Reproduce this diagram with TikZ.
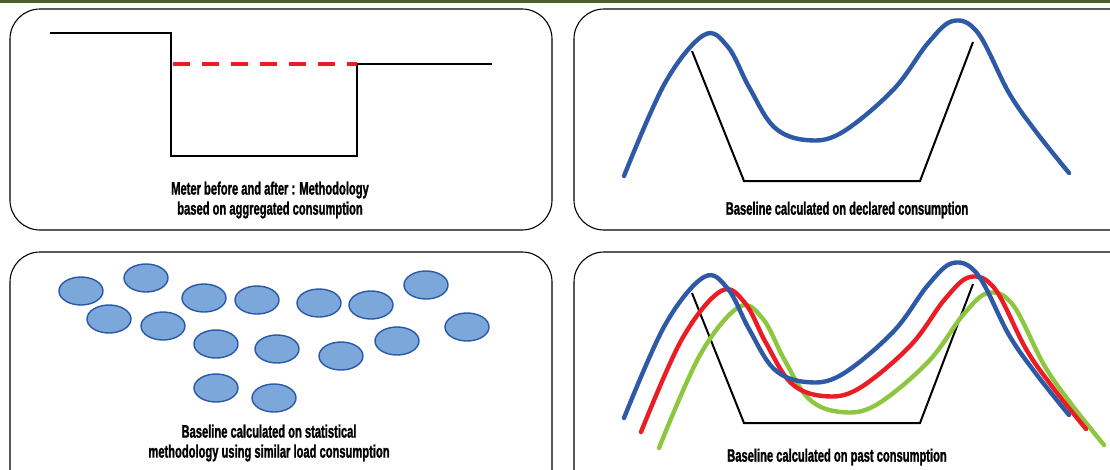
\documentclass[tikz,border=0pt]{standalone}
\usepackage{fontspec}
\newfontfamily\capfont{Liberation Sans}[FakeStretch=0.62, BoldFeatures={FakeBold=1.2}]
\definecolor{BarOlive}{HTML}{4F6128}
\definecolor{CurveBlue}{HTML}{2E59A6}
\definecolor{CurveRed}{HTML}{EC1C24}
\definecolor{CurveGreen}{HTML}{8DC63F}
\definecolor{BlobFill}{HTML}{7BA7DB}
\definecolor{BlobEdge}{HTML}{2B58A8}
\usetikzlibrary{shapes.geometric}

% load profile with two peaks (top right panel coordinates)
\newcommand{\peakpath}{plot[smooth, tension=0.6] coordinates {(624,176) (665,83) (704,35) (728,47) (749,87) (774,127) (806,140) (841,133) (893,90) (928,43) (953,21) (978,33) (1009,93) (1037,133) (1069,173)}}
\newcommand{\basepath}{(692,51) -- (744,181) -- (920,181) -- (973,42)}

\begin{document}
\begin{tikzpicture}[x=1pt, y=-1pt,
  panel/.style={draw=black, line width=1.1pt, rounded corners=30pt},
  lbl/.style={font=\capfont\bfseries\fontsize{18}{20}\selectfont, align=center, inner sep=0pt},
  prof/.style={line width=2pt, line join=miter},
  curve/.style={line width=4.4pt, line cap=round},
  blob/.style={ellipse, draw=BlobEdge, fill=BlobFill, line width=1.4pt, minimum width=44pt, minimum height=28pt, inner sep=0pt},
]
  \useasboundingbox (0,0) rectangle (1110,469);
  \clip (0,0) rectangle (1110,469);
  \fill[BarOlive] (0,0) rectangle (1110,3);

  % Panels
  \draw[panel] (10,9) rectangle (552,230);
  \draw[panel] (574,9) rectangle (1140,230);
  \draw[panel] (10,252) rectangle (552,500);
  \draw[panel] (574,252) rectangle (1140,500);

  % Meter before and after
  \draw[prof] (50,33) -- (171,33) -- (171,156) -- (357,156) -- (357,64) -- (492,64);
  \draw[CurveRed, line width=4pt, dash pattern=on 17pt off 12pt] (173,64) -- (357,64);
  \node[lbl] (capmeter) at (270,200) {Meter before and after : Methodology\\based on aggregated consumption};

  % Declared consumption
  \draw[prof] \basepath;
  \draw[curve, CurveBlue] \peakpath;
  \node[lbl] (capdecl) at (847,210) {Baseline calculated on declared consumption};

  % Statistical methodology
  \node[blob] (e1) at (81,291) {};
  \node[blob] (e2) at (146,278) {};
  \node[blob] (e3) at (204,298) {};
  \node[blob] (e4) at (257,300) {};
  \node[blob] (e5) at (319,303) {};
  \node[blob] (e6) at (371,305) {};
  \node[blob] (e7) at (426,285) {};
  \node[blob] (e8) at (109,319) {};
  \node[blob] (e9) at (163,326) {};
  \node[blob] (e10) at (216,344) {};
  \node[blob] (e11) at (277,349) {};
  \node[blob] (e12) at (341,356) {};
  \node[blob] (e13) at (397,341) {};
  \node[blob] (e14) at (467,327) {};
  \node[blob] (e15) at (216,388) {};
  \node[blob] (e16) at (274,398) {};
  \node[lbl] (capstat) at (269,443) {Baseline calculated on statistical\\methodology using similar load consumption};

  % Past consumption
  \begin{scope}[shift={(0,242)}]
    \draw[prof] \basepath;
  \end{scope}
  \begin{scope}[shift={(35,272)}]
    \draw[curve, CurveGreen] \peakpath;
  \end{scope}
  \begin{scope}[shift={(17,256)}]
    \draw[curve, CurveRed] \peakpath;
  \end{scope}
  \begin{scope}[shift={(0,242)}]
    \draw[curve, CurveBlue] \peakpath;
  \end{scope}
  \node[lbl] (cappast) at (837,457) {Baseline calculated on past consumption};
\end{tikzpicture}
\end{document}
